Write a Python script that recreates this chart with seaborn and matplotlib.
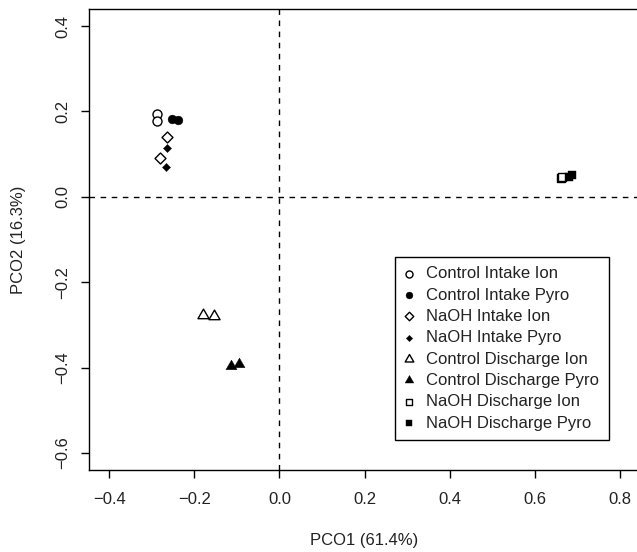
import numpy as np
import pandas as pd
import matplotlib
matplotlib.use("Agg")
import matplotlib.pyplot as plt
import seaborn as sns
from matplotlib.markers import MarkerStyle
from matplotlib.path import Path

# ---- data ----
groups = ["Control Intake Ion", "Control Intake Pyro", "NaOH Intake Ion", "NaOH Intake Pyro",
          "Control Discharge Ion", "Control Discharge Pyro", "NaOH Discharge Ion", "NaOH Discharge Pyro"]
pco1_ctrl_int_ion = [-0.287, -0.289]
pco2_ctrl_int_ion = [0.194, 0.178]
pco1_ctrl_int_pyro = [-0.252, -0.238]
pco2_ctrl_int_pyro = [0.182, 0.180]
pco1_naoh_int_ion = [-0.264, -0.280]
pco2_naoh_int_ion = [0.140, 0.091]
pco1_naoh_int_pyro = [-0.264, -0.266]
pco2_naoh_int_pyro = [0.114, 0.070]
pco1_ctrl_dis_ion = [-0.181, -0.155]
pco2_ctrl_dis_ion = [-0.276, -0.280]
pco1_ctrl_dis_pyro = [-0.113, -0.096]
pco2_ctrl_dis_pyro = [-0.397, -0.391]
pco1_naoh_dis_ion = [0.662, 0.665]
pco2_naoh_dis_ion = [0.045, 0.046]
pco1_naoh_dis_pyro = [0.680, 0.688]
pco2_naoh_dis_pyro = [0.047, 0.051]

xticks = [-0.4, -0.2, 0.0, 0.2, 0.4, 0.6, 0.8]
yticks = [-0.6, -0.4, -0.2, 0.0, 0.2, 0.4]
xtick_labels = ["\u22120.4", "\u22120.2", "0.0", "0.2", "0.4", "0.6", "0.8"]
ytick_labels = ["\u22120.6", "\u22120.4", "\u22120.2", "0.0", "0.2", "0.4"]

xs = [pco1_ctrl_int_ion, pco1_ctrl_int_pyro, pco1_naoh_int_ion, pco1_naoh_int_pyro,
      pco1_ctrl_dis_ion, pco1_ctrl_dis_pyro, pco1_naoh_dis_ion, pco1_naoh_dis_pyro]
ys = [pco2_ctrl_int_ion, pco2_ctrl_int_pyro, pco2_naoh_int_ion, pco2_naoh_int_pyro,
      pco2_ctrl_dis_ion, pco2_ctrl_dis_pyro, pco2_naoh_dis_ion, pco2_naoh_dis_pyro]

df = pd.DataFrame({
    "PCO1": np.concatenate(xs),
    "PCO2": np.concatenate(ys),
    "group": np.repeat(groups, [len(v) for v in xs]),
})

# ---- styling ----
sns.set_theme(style="white")
plt.rcParams["font.family"] = ["Liberation Sans", "DejaVu Sans"]
plt.rcParams["axes.unicode_minus"] = True

tri = Path([(0, 1), (-0.866, -0.5), (0.866, -0.5), (0, 1)],
           [Path.MOVETO, Path.LINETO, Path.LINETO, Path.CLOSEPOLY])
styles = {
    "Control Intake Ion": dict(marker="o", s=42, fc="white", ec="black", lw=1.0),
    "Control Intake Pyro": dict(marker="o", s=40, fc="black", ec="black", lw=0.3),
    "NaOH Intake Ion": dict(marker="D", s=31, fc="white", ec="black", lw=1.0),
    "NaOH Intake Pyro": dict(marker="D", s=17, fc="black", ec="black", lw=0.3),
    "Control Discharge Ion": dict(marker=tri, s=85, fc="white", ec="black", lw=1.0),
    "Control Discharge Pyro": dict(marker=tri, s=85, fc="black", ec="black", lw=0.3),
    "NaOH Discharge Ion": dict(marker="s", s=33, fc="white", ec="black", lw=1.0),
    "NaOH Discharge Pyro": dict(marker="s", s=35, fc="black", ec="black", lw=0.3),
}

fig = plt.figure(figsize=(6.37, 5.52), dpi=100)
ax = fig.add_axes([89 / 637, 82 / 552, 551 / 637, 461 / 552])

ax.axhline(0, color="black", lw=1.0, linestyle=(0, (4, 4)), zorder=1)
ax.axvline(0, color="black", lw=1.0, linestyle=(0, (4, 4)), zorder=1)

for g in groups:
    st = styles[g]
    sub = df[df["group"] == g]
    sns.scatterplot(data=sub, x="PCO1", y="PCO2", ax=ax,
                    marker=MarkerStyle(st["marker"]), s=st["s"],
                    facecolor=st["fc"], edgecolor=st["ec"], linewidth=st["lw"],
                    label=g, legend=False, zorder=3)

ax.set_xlim(-0.448, 0.848)
ax.set_ylim(-0.64, 0.44)
ax.set_xticks(xticks)
ax.set_xticklabels(xtick_labels)
ax.set_yticks(yticks)
ax.set_yticklabels(ytick_labels)
ax.tick_params(axis="both", which="major", direction="out", length=5.5, width=1.0,
               color="black", labelsize=12, labelcolor="#222222",
               bottom=True, left=True, top=False, right=False)
ax.tick_params(axis="x", pad=10)
ax.tick_params(axis="y", pad=8, labelrotation=90)
for lab in ax.get_yticklabels():
    lab.set_va("center")

for sp in ax.spines.values():
    sp.set_visible(True)
    sp.set_color("black")
    sp.set_linewidth(1.0)

ax.set_xlabel("PCO1 (61.4%)", fontsize=12, color="#222222")
ax.set_ylabel("PCO2 (16.3%)", fontsize=12, color="#222222")
ax.xaxis.set_label_coords(0.5, -0.137)
ax.yaxis.set_label_coords(-0.114, 0.5)

leg = ax.legend(loc="upper left", bbox_to_anchor=(0.555, 0.462), borderaxespad=0,
                fontsize=12, frameon=True, fancybox=False, edgecolor="black",
                framealpha=1, scatterpoints=1, markerscale=0.78,
                labelspacing=0.38, borderpad=0.55, handlelength=0.65,
                handletextpad=0.7)
leg.get_frame().set_linewidth(1.0)
for t in leg.get_texts():
    t.set_color("#222222")

fig.savefig("out.png", dpi=100)
